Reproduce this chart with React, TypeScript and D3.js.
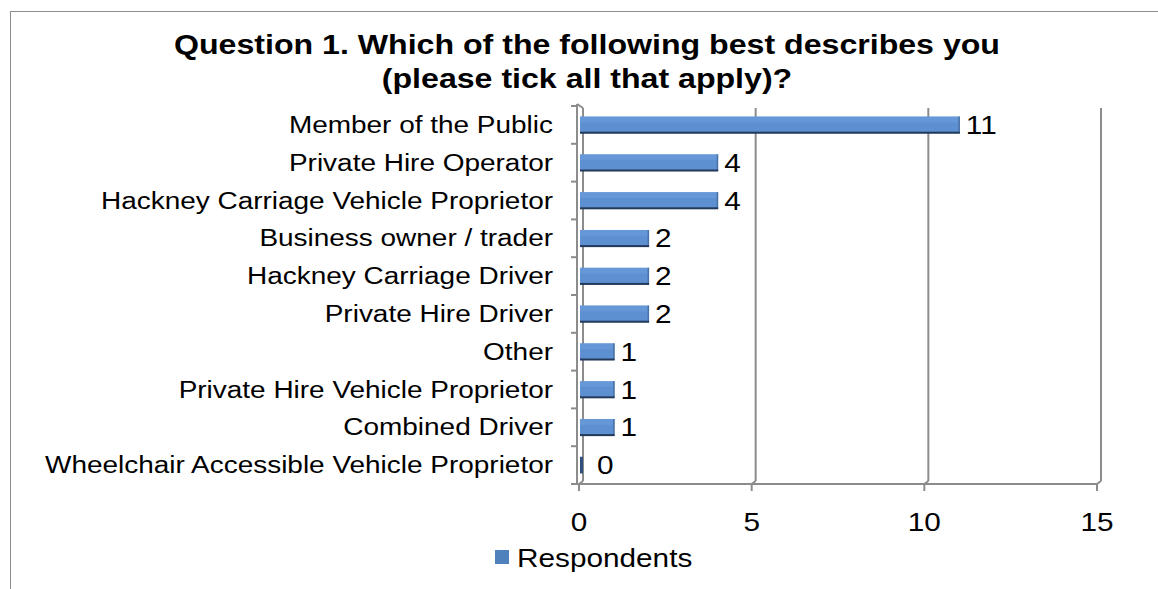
import React from "react";
import * as d3 from "d3";

const categories = [
  "Member of the Public",
  "Private Hire Operator",
  "Hackney Carriage Vehicle Proprietor",
  "Business owner / trader",
  "Hackney Carriage Driver",
  "Private Hire Driver",
  "Other",
  "Private Hire Vehicle Proprietor",
  "Combined Driver",
  "Wheelchair Accessible Vehicle Proprietor",
];
const respondents = [11, 4, 4, 2, 2, 2, 1, 1, 1, 0];
const xTicks = [0, 5, 10, 15];
const titleLines = [
  "Question 1. Which of the following best describes you",
  "(please tick all that apply)?",
];
const seriesName = "Respondents";

const W = 1158;
const H = 589;
const FONT = "'Liberation Sans', Arial, Helvetica, sans-serif";
const SX = 1.19;

function T(props: {
  x: number;
  y: number;
  size: number;
  anchor?: string;
  bold?: boolean;
  children: React.ReactNode;
}) {
  return (
    <text
      transform={`translate(${props.x},${props.y}) scale(${SX},1)`}
      textAnchor={props.anchor || "start"}
      fontSize={props.size}
      fontWeight={props.bold ? "bold" : "normal"}
      fill="#000"
    >
      {props.children}
    </text>
  );
}

export default function App() {
  const x0 = 579;
  const x1 = 1097;
  const yTop = 106;
  const yBot = 484;
  const depth = 4;
  const x = d3.scaleLinear().domain([0, 15]).range([x0, x1]);
  const y = d3
    .scaleBand<string>()
    .domain(categories)
    .range([yTop, yBot])
    .paddingInner(0.56)
    .paddingOuter(0.28);
  const step = y.step();
  const grid = "#8c8c8c";

  return (
    <svg
      width={W}
      height={H}
      style={{ position: "absolute", left: 0, top: 0, display: "block", background: "#fff" }}
      fontFamily={FONT}
    >
      <rect x={10.5} y={11.5} width={W + 10} height={H + 10} fill="none" stroke="#8c8c8c" strokeWidth={1} />
      {titleLines.map((t, i) => (
        <T key={i} x={587} y={54 + i * 34} size={27} anchor="middle" bold>
          {t}
        </T>
      ))}
      {/* back wall gridlines */}
      {xTicks.map((t) => (
        <line key={"g" + t} x1={x(t) + depth} x2={x(t) + depth} y1={yTop + 2} y2={yBot - 3} stroke={grid} strokeWidth={2} />
      ))}
      {xTicks.map((t) => (
        <line key={"gd" + t} x1={x(t) + depth} x2={x(t)} y1={yBot - 3} y2={yBot} stroke={grid} strokeWidth={2} />
      ))}
      {/* left front axis */}
      <line x1={x0 - 2} x2={x0 - 2} y1={yTop - 2} y2={yBot} stroke={grid} strokeWidth={2} />
      <line x1={x0 - 2} x2={x0 + depth} y1={yTop - 2} y2={yTop + 2} stroke={grid} strokeWidth={2} />
      {d3.range(categories.length + 1).map((i) => (
        <line key={"yt" + i} x1={x0 - 8} x2={x0 - 2} y1={yTop + i * step} y2={yTop + i * step} stroke={grid} strokeWidth={2} />
      ))}
      {/* bottom axis */}
      <line x1={x0 - 2} x2={x1 + 1} y1={yBot} y2={yBot} stroke={grid} strokeWidth={2} />
      {xTicks.map((t) => (
        <line key={"xt" + t} x1={x(t)} x2={x(t)} y1={yBot} y2={yBot + 7} stroke={grid} strokeWidth={2} />
      ))}
      {xTicks.map((t) => (
        <T key={"xl" + t} x={x(t)} y={531} size={25} anchor="middle">
          {t}
        </T>
      ))}
      {/* bars */}
      {categories.map((c, i) => {
        const v = respondents[i];
        const by = y(c)!;
        const bh = y.bandwidth();
        const bx = x(0) + 1;
        const bw = Math.max(x(v) - x(0), 0);
        return (
          <g key={c}>
            {v > 0 ? (
              <>
                <rect x={bx} y={by} width={bw} height={bh} fill="#5d90d1" />
                <rect x={bx} y={by} width={bw} height={bh * 0.35} fill="#6d9dda" opacity={0.6} />
                <rect x={bx + bw - 1.5} y={by} width={1.5} height={bh} fill="#4a72a6" />
                <rect x={bx} y={by + bh - 1.5} width={bw} height={2} fill="#22395a" />
              </>
            ) : (
              <rect x={bx} y={by} width={3} height={bh} fill="#2f4f7d" />
            )}
            <T x={x(v) + (v > 0 ? 7 : 18)} y={by + bh / 2 + 9} size={25}>
              {v}
            </T>
            <T x={553} y={by + bh / 2 + 8} size={23.5} anchor="end">
              {c}
            </T>
          </g>
        );
      })}
      {/* legend */}
      <rect x={495} y={550} width={14} height={14} fill="#4f81bd" />
      <T x={517} y={567} size={25}>
        {seriesName}
      </T>
    </svg>
  );
}
